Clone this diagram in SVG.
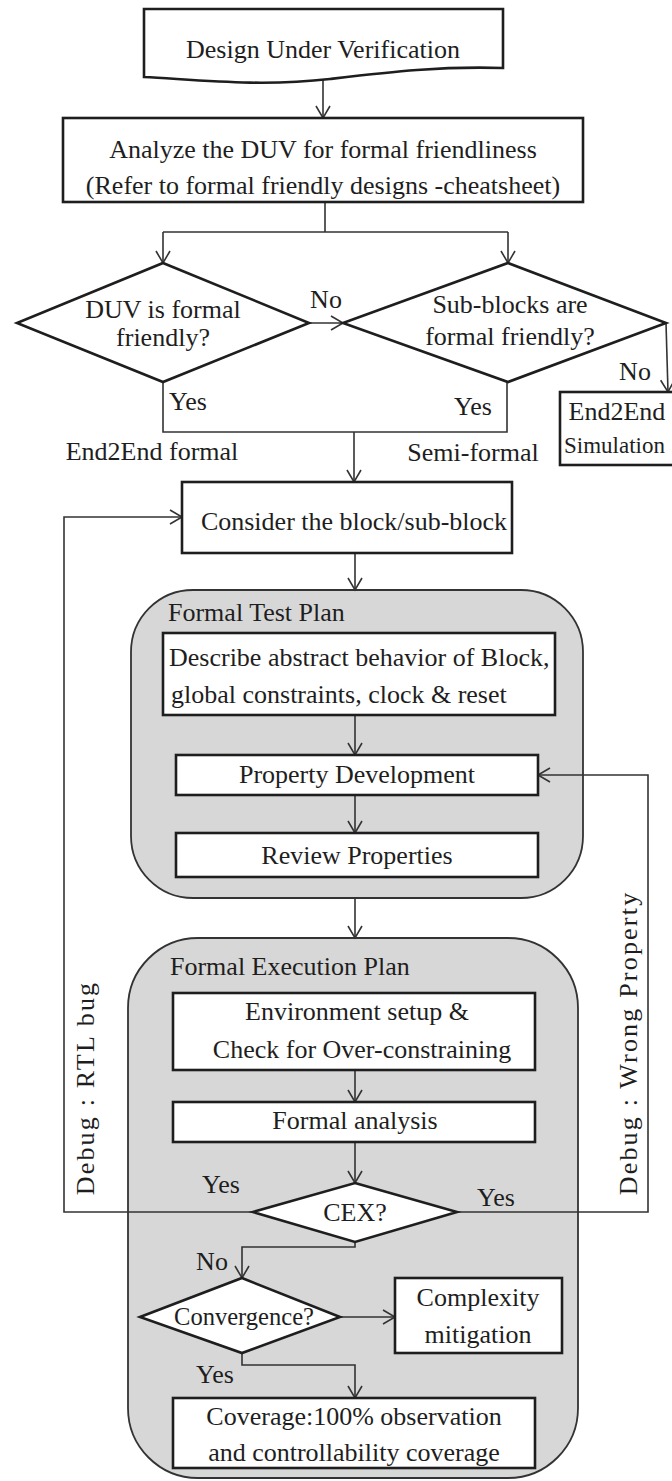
<svg xmlns="http://www.w3.org/2000/svg" width="672" height="1481" viewBox="0 0 672 1481" font-family="'Liberation Serif', 'DejaVu Serif', serif">
  <defs>
    <style>
      text { font-family: 'Liberation Serif', 'DejaVu Serif', serif; font-size: 26px; fill: #1e1e1e; }
      .c { text-anchor: middle; }
      .box { fill: #fff; stroke: #1e1e1e; stroke-width: 2.6; }
      .dia { fill: #fff; stroke: #1e1e1e; stroke-width: 2.6; stroke-linejoin: miter; }
      .grp { fill: #d7d7d7; stroke: #333; stroke-width: 1.8; }
      .edge { fill: none; stroke: #333; stroke-width: 1.6; }
      .arr { marker-end: url(#open); }
      .vert { letter-spacing: 2.2px; text-anchor: middle; }
    </style>
    <marker id="open" markerUnits="userSpaceOnUse" markerWidth="16" markerHeight="18" refX="14" refY="9" orient="auto">
      <path d="M2,2 L14,9 L2,16" fill="none" stroke="#333" stroke-width="1.6"/>
    </marker>
  </defs>
  <rect width="672" height="1481" fill="#fff"/>

  <!-- grouping panels -->
  <g id="test-plan">
    <rect class="grp" x="131" y="590" width="452" height="308" rx="62"/>
    <text x="168" y="621">Formal Test Plan</text>
  </g>
  <g id="execution-plan">
    <rect class="grp" x="128" y="938" width="450" height="540" rx="70"/>
    <text x="170" y="975">Formal Execution Plan</text>
  </g>

  <!-- connectors -->
  <g id="connectors">
    <path class="edge arr" d="M323,79 V118"/>
    <path class="edge" d="M325,202 V232 M163,232 H508"/>
    <path class="edge arr" d="M163,232 V263"/>
    <path class="edge arr" d="M508,232 V263"/>
    <path class="edge arr" d="M309,323 H343"/>
    <text x="326" y="308" class="c">No</text>
    <path class="edge arr" d="M666,323 L668,392"/>
    <text x="635" y="380" class="c">No</text>
    <path class="edge" d="M163,382 V432 H507 V382"/>
    <text x="188" y="410" class="c">Yes</text>
    <text x="473" y="415" class="c">Yes</text>
    <text x="152" y="460" class="c">End2End formal</text>
    <text x="473" y="461" class="c">Semi-formal</text>
    <path class="edge arr" d="M354,432 V482"/>
    <path class="edge arr" d="M355,553 V590"/>
    <path class="edge arr" d="M355,715 V755"/>
    <path class="edge arr" d="M355,795 V833"/>
    <path class="edge arr" d="M355,898 V938"/>
    <path class="edge arr" d="M355,1070 V1102"/>
    <path class="edge arr" d="M355,1142 V1183"/>
    <!-- CEX yes branches: back to block selection / property development -->
    <path class="edge arr" d="M253,1212 H64 V517 H182"/>
    <text x="221" y="1193" class="c">Yes</text>
    <text class="vert" transform="translate(94,1088) rotate(-90)">Debug : RTL bug</text>
    <path class="edge arr" d="M457,1212 H648 V775 H538"/>
    <text x="496" y="1206" class="c">Yes</text>
    <text class="vert" transform="translate(637,1043) rotate(-90)">Debug : Wrong Property</text>
    <path class="edge arr" d="M355,1242 V1247 H242 V1278"/>
    <text x="212" y="1270" class="c">No</text>
    <path class="edge arr" d="M340,1317 H395"/>
    <path class="edge arr" d="M242,1353 V1365 H355 V1398"/>
    <text x="215" y="1383" class="c">Yes</text>
  </g>

  <!-- nodes -->
  <g id="duv">
    <path class="box" d="M144,9 H503 V68 C440,66 390,72 330,79 C260,87 200,80 144,77 Z"/>
    <text x="323" y="58" class="c">Design Under Verification</text>
  </g>
  <g id="analyze">
    <rect class="box" x="63" y="118" width="520" height="84"/>
    <text x="323" y="158" class="c">Analyze the DUV for formal friendliness</text>
    <text x="323" y="194" class="c">(Refer to formal friendly designs -cheatsheet)</text>
  </g>
  <g id="duv-friendly">
    <polygon class="dia" points="163,263 309,323 163,382 17,323"/>
    <text x="163" y="318" class="c">DUV is formal</text>
    <text x="163" y="346" class="c">friendly?</text>
  </g>
  <g id="subblocks-friendly">
    <polygon class="dia" points="508,263 666,323 508,382 343,323"/>
    <text x="510" y="313" class="c">Sub-blocks are</text>
    <text x="510" y="345" class="c">formal friendly?</text>
  </g>
  <g id="e2e-sim">
    <rect class="box" x="560" y="392" width="122" height="73"/>
    <text x="617" y="420" class="c">End2End</text>
    <text x="564" y="453" style="font-size:23px">Simulation</text>
  </g>
  <g id="consider">
    <rect class="box" x="182" y="482" width="330" height="71"/>
    <text x="354" y="530" class="c">Consider the block/sub-block</text>
  </g>
  <g id="describe">
    <rect class="box" x="163" y="633" width="392" height="82"/>
    <text x="169" y="666">Describe abstract behavior of Block,</text>
    <text x="171" y="703">global constraints, clock &amp; reset</text>
  </g>
  <g id="property-dev">
    <rect class="box" x="176" y="755" width="362" height="40"/>
    <text x="357" y="783" class="c">Property Development</text>
  </g>
  <g id="review">
    <rect class="box" x="176" y="833" width="362" height="44"/>
    <text x="357" y="864" class="c">Review Properties</text>
  </g>
  <g id="env-setup">
    <rect class="box" x="173" y="993" width="362" height="77"/>
    <text x="357" y="1020" class="c">Environment setup &amp;</text>
    <text x="362" y="1058" class="c">Check for Over-constraining</text>
  </g>
  <g id="formal-analysis">
    <rect class="box" x="173" y="1102" width="362" height="40"/>
    <text x="355" y="1129" class="c">Formal analysis</text>
  </g>
  <g id="cex">
    <polygon class="dia" points="355,1183 457,1212 355,1242 253,1212"/>
    <text x="355" y="1221" class="c">CEX?</text>
  </g>
  <g id="convergence">
    <polygon class="dia" points="242,1278 340,1317 242,1353 140,1317"/>
    <text x="244" y="1325" class="c" textLength="140" lengthAdjust="spacingAndGlyphs">Convergence?</text>
  </g>
  <g id="complexity">
    <rect class="box" x="395" y="1278" width="167" height="75"/>
    <text x="478" y="1306" class="c">Complexity</text>
    <text x="478" y="1343" class="c">mitigation</text>
  </g>
  <g id="coverage">
    <rect class="box" x="173" y="1398" width="362" height="70"/>
    <text x="354" y="1425" class="c">Coverage:100% observation</text>
    <text x="354" y="1461" class="c">and controllability coverage</text>
  </g>
</svg>
